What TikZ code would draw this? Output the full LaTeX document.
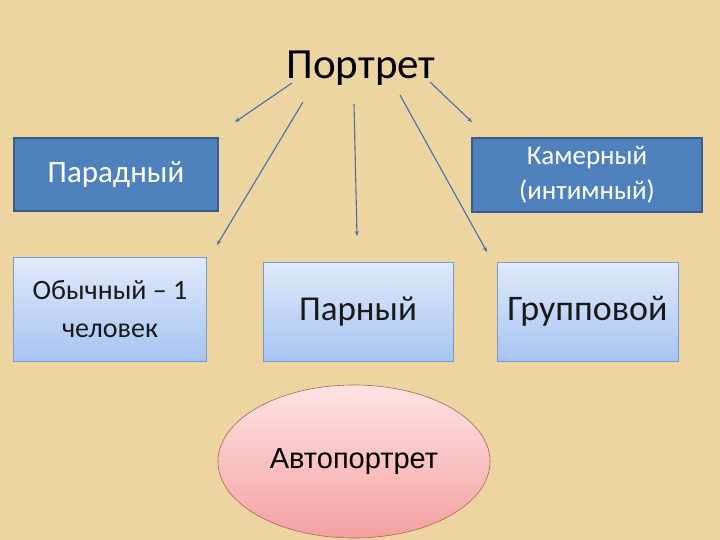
\documentclass[tikz,border=0pt]{standalone}
\usepackage{fontspec}
\setmainfont{Carlito}
\newfontfamily\arialf{Liberation Sans}
\usetikzlibrary{arrows.meta,shapes.geometric}
\definecolor{bgtan}{RGB}{236,213,160}
\definecolor{darkbox}{RGB}{79,129,189}
\definecolor{darkedge}{RGB}{56,93,138}
\definecolor{lighttop}{RGB}{224,234,250}
\definecolor{lightbot}{RGB}{166,196,242}
\definecolor{lightedge}{RGB}{120,155,205}
\definecolor{pinktop}{RGB}{255,228,228}
\definecolor{pinkbot}{RGB}{244,160,160}
\definecolor{pinkedge}{RGB}{178,96,90}
\definecolor{arrowcol}{RGB}{74,110,170}
\tikzset{
  darkrect/.style={draw=darkedge,line width=1.2pt,fill=darkbox,text=white,align=center,inner sep=0pt},
  lightrect/.style={draw=lightedge,line width=0.6pt,top color=lighttop,bottom color=lightbot,align=center,inner sep=0pt,text=black!90},
  pinkoval/.style={ellipse,draw=pinkedge,line width=0.6pt,top color=pinktop,bottom color=pinkbot,inner sep=0pt},
  conn/.style={draw=arrowcol,line width=1.1pt,-{Stealth[length=5pt,width=4pt]}}
}
\begin{document}
\begin{tikzpicture}[x=1pt,y=-1pt]
\fill[bgtan] (0,0) rectangle (720,540);
\useasboundingbox (0,0) rectangle (720,540);
\node[font=\fontsize{43}{48}\selectfont] (title) at (361,68) {Портрет};
\node[darkrect,minimum width=204pt,minimum height=73pt,font=\fontsize{31}{34}\selectfont] (parad) at (116,174.5) {Парадный};
\node[darkrect,minimum width=230pt,minimum height=74pt,font=\fontsize{27}{35}\selectfont] (kamer) at (587,175) {Камерный\\(интимный)};
\node[lightrect,minimum width=193pt,minimum height=104pt,font=\fontsize{28}{38}\selectfont] (obych) at (110,309.5) {Обычный – 1\\человек};
\node[lightrect,minimum width=190pt,minimum height=99pt,font=\fontsize{35}{40}\selectfont] (parn) at (358,311.5) {Парный};
\node[lightrect,minimum width=181pt,minimum height=99pt,font=\fontsize{36}{40}\selectfont] (grupp) at (587.5,311.5) {Групповой};
\node[pinkoval,minimum width=272pt,minimum height=153pt,font=\arialf\fontsize{29}{32}\selectfont] (avto) at (354,461.5) {Автопортрет};
\coordinate (s1) at (292,83);
\coordinate (e1) at (235,122);
\coordinate (s2) at (303,102);
\coordinate (e2) at (217,245);
\coordinate (s3) at (354,104);
\coordinate (e3) at (357,236);
\coordinate (s4) at (400,95);
\coordinate (e4) at (487,252);
\coordinate (s5) at (430,82);
\coordinate (e5) at (472,122);
\draw[conn] (s1) -- (e1);
\draw[conn] (s2) -- (e2);
\draw[conn] (s3) -- (e3);
\draw[conn] (s4) -- (e4);
\draw[conn] (s5) -- (e5);
\end{tikzpicture}
\end{document}
